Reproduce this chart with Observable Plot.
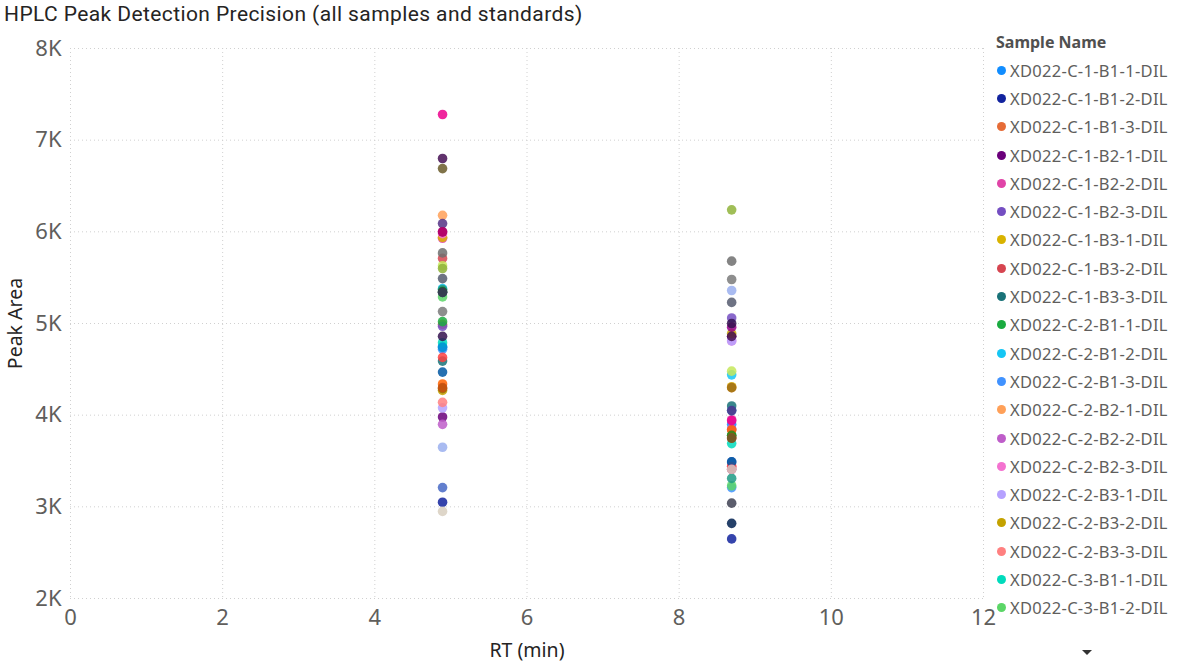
<!DOCTYPE html>
<html>
<head>
<meta charset="utf-8">
<script src="https://cdn.jsdelivr.net/npm/d3@7"></script>
<script src="https://cdn.jsdelivr.net/npm/@observablehq/plot@0.6"></script>
<style>
  html, body { margin: 0; padding: 0; background: #fff; width: 1180px; height: 662px; overflow: hidden; }
  #title { position: absolute; left: 4px; top: 2px; font-family: "Roboto", "Noto Sans", sans-serif; font-size: 21px; letter-spacing: 0.4px; color: #252423; }
  #chart { position: absolute; left: 0; top: 28px; }
  #legend { position: absolute; left: 996px; top: 31px; font-family: "Noto Sans", "Open Sans", sans-serif; color: #605E5C; }
  #legend .head { font-weight: bold; font-size: 16px; height: 25px; color: #505050; }
  #legend .item { display: flex; align-items: center; height: 28.3px; font-size: 16.5px; letter-spacing: 0.3px; white-space: nowrap; }
  #legend .dot { width: 9px; height: 9px; border-radius: 50%; margin-right: 4px; margin-left: 1px; }
  #more { position: absolute; left: 1082px; top: 650px; width: 0; height: 0; border-left: 5px solid transparent; border-right: 5px solid transparent; border-top: 5px solid #333; }
</style>
</head>
<body>
<div id="title">HPLC Peak Detection Precision (all samples and standards)</div>
<div id="chart"></div>
<div id="legend"></div>
<div id="more"></div>
<script>
// ---- data ----
const sampleNames = [
  "XD022-C-1-B1-1-DIL","XD022-C-1-B1-2-DIL","XD022-C-1-B1-3-DIL","XD022-C-1-B2-1-DIL","XD022-C-1-B2-2-DIL",
  "XD022-C-1-B2-3-DIL","XD022-C-1-B3-1-DIL","XD022-C-1-B3-2-DIL","XD022-C-1-B3-3-DIL","XD022-C-2-B1-1-DIL",
  "XD022-C-2-B1-2-DIL","XD022-C-2-B1-3-DIL","XD022-C-2-B2-1-DIL","XD022-C-2-B2-2-DIL","XD022-C-2-B2-3-DIL",
  "XD022-C-2-B3-1-DIL","XD022-C-2-B3-2-DIL","XD022-C-2-B3-3-DIL","XD022-C-3-B1-1-DIL","XD022-C-3-B1-2-DIL",
  "XD022-C-3-B1-3-DIL","XD022-C-3-B2-1-DIL","XD022-C-3-B2-2-DIL","XD022-C-3-B2-3-DIL","XD022-C-3-B3-1-DIL",
  "XD022-C-3-B3-2-DIL","XD022-C-3-B3-3-DIL","XD022-C-4-B1-1-DIL","XD022-C-4-B1-2-DIL","XD022-C-4-B1-3-DIL",
  "XD022-C-4-B2-1-DIL","XD022-C-4-B2-2-DIL","XD022-C-4-B2-3-DIL","XD022-C-4-B3-1-DIL","XD022-C-4-B3-2-DIL",
  "XD022-C-4-B3-3-DIL","XD022-C-5-B1-1-DIL","XD022-C-5-B1-2-DIL","XD022-C-5-B1-3-DIL","XD022-C-5-B2-1-DIL",
  "XD022-C-5-B2-2-DIL","XD022-C-5-B2-3-DIL","XD022-C-5-B3-1-DIL","XD022-C-5-B3-2-DIL","XD022-C-5-B3-3-DIL"
];
const sampleColors = [
  "#118DFF","#12239E","#E66C37","#6B007B","#E044A7","#744EC2","#D9B300","#D64550","#197278","#1AAB40",
  "#15C6F4","#4092FF","#FFA058","#BE5DC9","#F472D0","#B5A1FF","#C4A200","#FF8080","#00DBBC","#5BD667",
  "#0091D5","#4668C5","#FF6300","#99008A","#EC008C","#533285","#99700A","#FF4141","#1F9A85","#25891C",
  "#0057A2","#002050","#C94F0F","#450F54","#B60064","#34124F","#6A5A29","#6E6E6E","#C5E85A","#555B6E",
  "#7A7A7A","#D8CFC0","#8FB339","#9AAFEF","#3E4152"
];
// retention times of the two peaks (min)
const peak1RT = 4.89;
const peak2RT = 8.69;
// peak areas for each sample at the first and second peak
const peak1Area = [
  4750,3050,4990,3980,5930,4970,5940,5710,4590,5020,
  5380,4720,6180,3900,5980,4080,4270,4140,4790,5290,
  4740,3210,4340,6000,7280,6090,4290,4630,5370,5350,
  4470,5340,4300,6800,6000,4860,6690,5770,5630,5490,
  5130,2950,5600,3650,5340
];
const peak2Area = [
  3900,2650,3840,4860,3950,5060,4310,3750,4100,3780,
  4440,3210,4300,3850,4810,4810,4890,3440,3690,3230,
  4050,3490,3840,4960,3940,4050,4300,3440,3310,3780,
  3490,2820,3750,4860,3410,5000,3750,5680,4480,5230,
  5480,3410,6240,5360,3040
];

const rows = [];
sampleNames.forEach((s, i) => {
  rows.push({sample: s, rt: peak1RT, area: peak1Area[i]});
  rows.push({sample: s, rt: peak2RT, area: peak2Area[i]});
});

const xTicks = [0, 2, 4, 6, 8, 10, 12];
const yTicks = [2000, 3000, 4000, 5000, 6000, 7000, 8000];

const chart = Plot.plot({
  width: 1000,
  height: 634,
  marginLeft: 70,
  marginRight: 17,
  marginTop: 20,
  marginBottom: 64,
  style: {fontFamily: "'Noto Sans', 'Open Sans', sans-serif", color: "#605E5C", background: "transparent"},
  x: {domain: [0, 12], ticks: xTicks},
  y: {domain: [2000, 8000], ticks: yTicks},
  color: {domain: sampleNames, range: sampleColors},
  marks: [
    Plot.gridX(xTicks, {stroke: "#d0d0d0", strokeOpacity: 1, strokeDasharray: "1,3"}),
    Plot.gridY(yTicks, {stroke: "#d0d0d0", strokeOpacity: 1, strokeDasharray: "1,3"}),
    Plot.axisX(xTicks, {tickSize: 0, tickPadding: 11, fontSize: 22, fill: "#605E5C",
      label: "RT (min)", labelAnchor: "center", labelOffset: 58, labelArrow: "none"}),
    Plot.axisY(yTicks, {tickSize: 0, tickPadding: 9, fontSize: 22, fill: "#605E5C",
      tickFormat: d => (d / 1000) + "K",
      label: "Peak Area", labelAnchor: "center", labelOffset: 62, labelArrow: "none"}),
    Plot.dot(rows, {x: "rt", y: "area", fill: "sample", r: 4.8, fillOpacity: 0.85, stroke: "none"})
  ]
});
document.getElementById("chart").appendChild(chart);
// style axis labels
d3.select(chart).selectAll("g[aria-label='x-axis label'] text, g[aria-label='y-axis label'] text")
  .attr("font-size", 19.5).attr("fill", "#252423");

const legend = d3.select("#legend");
legend.append("div").attr("class", "head").text("Sample Name");
sampleNames.slice(0, 20).forEach((s, i) => {
  const it = legend.append("div").attr("class", "item");
  it.append("div").attr("class", "dot").style("background", sampleColors[i]);
  it.append("span").text(s);
});
</script>
</body>
</html>
